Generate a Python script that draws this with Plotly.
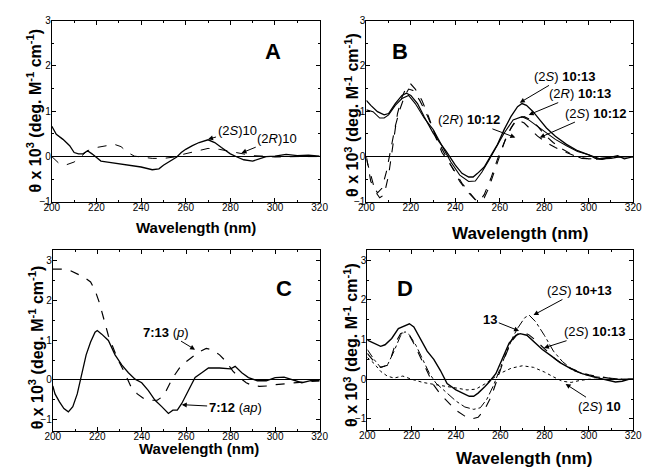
import plotly.graph_objects as go

# ---------------- Data ----------------
# Panel A
a_s10_x = [200,202,205,208,210,212,214,216,218,220,222,225,230,235,240,245,248,250,253,256,258,260,263,266,270,273,276,280,283,286,290,293,296,300,305,310,315,320]
a_s10_y = [0.67,0.49,0.38,0.24,0.09,0.06,0.06,0.13,0.06,-0.01,-0.1,-0.12,-0.16,-0.19,-0.23,-0.29,-0.27,-0.19,-0.1,-0.01,0.09,0.16,0.24,0.31,0.37,0.31,0.2,0.06,-0.01,-0.07,-0.1,-0.05,0.0,0.01,0.05,0.02,0.03,0.01]
a_r10_x = [200,203,206,210,213,216,220,225,228,231,234,237,240,245,250,255,258,262,266,270,275,280,285,290,295,300,310,320]
a_r10_y = [0.0,-0.14,-0.19,-0.12,0.0,0.13,0.2,0.25,0.27,0.22,0.09,0.01,-0.01,-0.04,-0.04,-0.01,0.04,0.09,0.14,0.18,0.16,0.11,0.06,0.02,0.01,-0.01,0.0,0.0]

# Panel B
b_s1013_x = [200,202,205,208,210,213,216,218,220,223,226,230,233,236,240,243,246,248,250,253,256,259,262,265,268,270,272,275,278,281,285,290,295,300,303,306,310,313,316,320]
b_s1013_y = [1.24,1.13,0.99,0.92,0.95,1.17,1.35,1.4,1.35,1.17,0.88,0.52,0.31,0.11,-0.19,-0.37,-0.45,-0.45,-0.37,-0.23,0.02,0.27,0.6,0.88,1.1,1.17,1.13,0.99,0.81,0.63,0.45,0.27,0.13,0.04,-0.04,-0.06,-0.01,0.02,-0.05,0.0]
b_r1013_x = [200,203,206,208,210,213,216,219,222,226,230,234,238,242,246,249,252,255,258,262,266,270,273,276,280,285,290,295,300,305,310,315,320]
b_r1013_y = [1.03,0.99,0.85,0.85,0.92,1.13,1.28,1.35,1.17,0.85,0.6,0.24,-0.12,-0.41,-0.55,-0.54,-0.34,-0.09,0.17,0.52,0.81,0.88,0.81,0.7,0.56,0.38,0.24,0.11,0.04,-0.05,-0.04,0.0,0.0]
b_r1012_x = [200,202,204,206,208,210,212,214,216,218,220,222,225,228,231,234,237,240,243,246,249,251,253,255,257,259,261,263,266,268,271,274,277,281,285,290,295,300,305,310,320]
b_r1012_y = [-0.05,-0.41,-0.77,-0.91,-0.84,-0.41,0.31,0.95,1.31,1.53,1.6,1.49,1.24,0.88,0.45,0.09,-0.12,-0.34,-0.59,-0.77,-0.95,-0.98,-0.91,-0.7,-0.41,-0.12,0.17,0.45,0.7,0.81,0.74,0.6,0.45,0.31,0.2,0.09,-0.01,-0.05,-0.04,-0.01,0.0]
b_s1012_x = [200,202,205,207,209,211,213,215,217,219,221,224,227,230,234,238,242,246,249,251,253,256,259,262,265,268,271,274,277,280,284,288,292,297,302,308,314,320]
b_s1012_y = [0.0,-0.55,-0.8,-0.7,-0.34,0.17,0.67,1.03,1.31,1.49,1.46,1.24,0.95,0.6,0.17,-0.19,-0.55,-0.8,-0.95,-0.97,-0.84,-0.48,-0.05,0.31,0.63,0.85,0.88,0.81,0.67,0.49,0.31,0.17,0.06,-0.04,-0.06,-0.04,0.0,0.0]

# Panel C
c_p_x = [200,205,208,211,214,217,219,221,223,225,227,229,232,235,238,241,244,247,249,251,254,257,260,263,266,269,272,275,278,281,284,287,290,293,297,300,305,310,315,320]
c_p_y = [2.78,2.78,2.74,2.66,2.58,2.46,2.25,1.93,1.52,1.11,0.83,0.54,0.22,-0.15,-0.35,-0.47,-0.51,-0.51,-0.43,-0.27,0.06,0.3,0.46,0.59,0.71,0.79,0.75,0.63,0.46,0.22,0.06,-0.07,-0.15,-0.16,-0.15,-0.12,-0.09,-0.07,-0.04,-0.02]
c_ap_x = [200,201,203,205,207,209,211,213,215,217,219,220,222,225,228,231,234,237,240,243,246,249,252,254,256,258,261,264,267,270,275,280,282,285,288,292,296,300,304,307,312,316,320]
c_ap_y = [-0.15,-0.35,-0.55,-0.72,-0.8,-0.67,-0.35,0.14,0.63,0.95,1.2,1.24,1.15,0.99,0.63,0.38,0.18,0.02,-0.07,-0.27,-0.51,-0.67,-0.84,-0.76,-0.76,-0.59,-0.27,0.06,0.18,0.3,0.3,0.28,0.34,0.18,0.06,-0.02,-0.02,0.06,0.07,0.02,-0.07,-0.02,-0.02]

# Panel D
d_s1013_x = [200,203,206,208,211,214,216,219,221,224,227,230,233,236,240,243,246,248,250,253,255,258,261,264,267,269,272,275,279,283,287,292,297,302,307,312,315,318,320]
d_s1013_y = [0.99,0.91,0.83,0.87,1.03,1.28,1.32,1.4,1.32,1.03,0.71,0.5,0.22,-0.11,-0.27,-0.35,-0.43,-0.43,-0.35,-0.19,-0.07,0.14,0.54,0.91,1.11,1.15,1.11,0.95,0.75,0.59,0.42,0.26,0.14,0.06,-0.01,-0.07,-0.05,0.0,0.0]
d_13_x = [200,203,206,209,211,213,215,217,219,221,224,227,230,233,236,240,244,247,250,253,256,259,262,265,268,270,273,276,280,285,290,295,300,305,310,315,320]
d_13_y = [0.65,0.45,0.3,0.35,0.6,0.95,1.15,1.2,1.1,0.9,0.55,0.2,-0.15,-0.38,-0.55,-0.78,-0.93,-1.0,-0.96,-0.76,-0.43,0.06,0.55,0.95,1.15,1.2,1.12,0.98,0.76,0.5,0.32,0.2,0.11,0.06,0.02,0.0,0.0]
d_sum_x = [200,203,206,209,212,215,217,219,222,225,228,231,235,240,244,248,251,254,257,260,263,266,268,271,273,276,280,284,288,293,298,303,310,315,320]
d_sum_y = [0.75,0.5,0.3,0.35,0.7,1.1,1.2,1.12,0.85,0.5,0.15,-0.1,-0.3,-0.55,-0.7,-0.76,-0.72,-0.5,-0.15,0.3,0.71,1.1,1.3,1.55,1.62,1.45,1.1,0.71,0.45,0.22,0.12,0.06,0.03,0.0,0.0]
d_s10_x = [200,203,206,209,212,216,220,225,230,235,240,245,249,253,256,260,265,270,275,280,284,288,292,296,300,310,320]
d_s10_y = [0.55,0.4,0.2,0.08,0.03,0.08,0.0,-0.08,-0.13,-0.17,-0.22,-0.27,-0.25,-0.12,0.0,0.15,0.28,0.34,0.3,0.18,0.06,-0.05,-0.08,-0.03,0.0,0.0,0.0]

x_ticks = [200, 220, 240, 260, 280, 300, 320]
y_ticks = [-1, 0, 1, 2, 3]

# ---------------- Figure ----------------
W, H = 649, 473
FONT = "Arial, Liberation Sans, Helvetica, sans-serif"
fig = go.Figure()

def line(x, y, ax, dash="solid", width=1.2):
    fig.add_trace(go.Scatter(x=x, y=y, mode="lines", xaxis="x" + ax, yaxis="y" + ax,
                             line=dict(color="black", width=width, dash=dash),
                             showlegend=False, hoverinfo="skip"))

line(a_r10_x, a_r10_y, "", "dash", 1.0)
line(a_s10_x, a_s10_y, "", "solid", 1.3)
line(b_r1012_x, b_r1012_y, "2", "dash", 1.1)
line(b_s1012_x, b_s1012_y, "2", "dash", 1.1)
line(b_r1013_x, b_r1013_y, "2", "solid", 1.1)
line(b_s1013_x, b_s1013_y, "2", "solid", 1.3)
line(c_p_x, c_p_y, "3", "dash", 1.2)
line(c_ap_x, c_ap_y, "3", "solid", 1.3)
line(d_s10_x, d_s10_y, "4", "dot", 1.0)
line(d_sum_x, d_sum_y, "4", "dashdot", 1.0)
line(d_13_x, d_13_y, "4", "dash", 1.1)
line(d_s1013_x, d_s1013_y, "4", "solid", 1.4)

def px2x(p): return p / W
def px2y(p): return 1 - p / H

domains = {
    "":  ([45, 320], [15, 201], [-1, 3]),
    "2": ([368, 642], [15, 201], [-1, 3]),
    "3": ([46, 320], [250, 436], [-1.28, 3.27]),
    "4": ([369, 642], [250, 435], [-1.28, 3.27]),
}
axfont = dict(family=FONT, size=10, color="black")
for k, (dx, dy, yr) in domains.items():
    common = dict(showline=True, linecolor="black", linewidth=1, mirror="allticks",
                  ticks="inside", ticklen=4, tickcolor="black", showgrid=False,
                  tickfont=axfont,
                  minor=dict(ticks="inside", ticklen=2, tickcolor="black"))
    fig.update_layout(**{
        "xaxis" + k: dict(domain=[px2x(dx[0]), px2x(dx[1])], range=[200, 320],
                          tickvals=x_ticks, anchor="y" + k, zeroline=False,
                          ticklabelstandoff=-4, minor_dtick=10, **common),
        "yaxis" + k: dict(domain=[px2y(dy[1]), px2y(dy[0])], range=yr,
                          tickvals=y_ticks, anchor="x" + k, zeroline=True,
                          zerolinecolor="black", zerolinewidth=1,
                          ticklabelstandoff=-2, minor_dtick=0.5, **common),
    })

ann = []
def txt(text, x, y, ax, size=13):
    ann.append(dict(text=text, x=x, y=y, xref="x" + ax, yref="y" + ax, showarrow=False,
                    font=dict(family=FONT, size=size, color="black")))
def label(text, lx, ly, tx, ty, ax, size=13):
    # text centred at (lx, ly) with an arrow pointing at (tx, ty)
    ann.append(dict(text=text, x=tx, y=ty, ax=lx, ay=ly, xref="x" + ax, yref="y" + ax,
                    axref="x" + ax, ayref="y" + ax, showarrow=True, arrowhead=2,
                    arrowsize=1, arrowwidth=1, arrowcolor="black", standoff=0,
                    font=dict(family=FONT, size=size, color="black")))

# Panel letters
txt("<b>A</b>", 299, 2.31, "", 22)
txt("<b>B</b>", 215, 2.31, "2", 22)
txt("<b>C</b>", 304, 2.3, "3", 22)
txt("<b>D</b>", 217, 2.29, "4", 22)

# Panel A labels
label("(2<i>S</i>)10", 283, 0.57, 270, 0.38, "")
label("(2<i>R</i>)10", 301, 0.40, 285, 0.08, "")

# Panel B labels
label("(2<i>S</i>) <b>10:13</b>", 289, 1.77, 269, 1.19, "2")
label("(2<i>R</i>) <b>10:13</b>", 296, 1.39, 273, 0.92, "2")
label("(2<i>R</i>) <b>10:12</b>", 246, 0.81, 267, 0.42, "2")
label("(2<i>S</i>) <b>10:12</b>", 303, 0.96, 278, 0.42, "2")

# Panel C labels
label("<b>7:13</b> (<i>p</i>)", 251, 1.2, 264, 0.76, "3")
label("<b>7:12</b> (<i>ap</i>)", 282, -0.69, 258, -0.62, "3")

# Panel D labels
label("(2<i>S</i>) <b>10+13</b>", 295.6, 2.24, 275, 1.62, "4")
label("<b>13</b>", 255.5, 1.51, 268.5, 1.22, "4")
label("(2<i>S</i>) <b>10:13</b>", 302.6, 1.2, 279.7, 0.79, "4")
label("(2<i>S</i>) <b>10</b>", 305, -0.68, 289.5, -0.12, "4")

# Axis titles
YT = "<b>θ x 10<sup>3</sup> (deg. M<sup>-1</sup> cm<sup>-1</sup>)</b>"
XT = "<b>Wavelength (nm)</b>"
for (px, py, s) in [(193, 227, 15), (526, 233, 17), (196, 454, 15), (530, 464, 17)]:
    ann.append(dict(text=XT, x=px2x(px), y=px2y(py), xref="paper", yref="paper",
                    showarrow=False, font=dict(family=FONT, size=s, color="black"),
                    xanchor="center", yanchor="middle"))
for (px, py) in [(27, 107), (353, 112), (29, 350), (352, 348)]:
    ann.append(dict(text=YT, x=px2x(px), y=px2y(py), xref="paper", yref="paper",
                    showarrow=False, textangle=-90,
                    font=dict(family=FONT, size=16, color="black"),
                    xanchor="center", yanchor="middle"))

fig.update_layout(width=W, height=H, margin=dict(l=0, r=0, t=0, b=0),
                  paper_bgcolor="white", plot_bgcolor="white",
                  annotations=ann, showlegend=False)
fig.write_html("out.html", config={"displayModeBar": False},
               post_script="document.body.style.margin='0';document.body.style.overflow='hidden';")
